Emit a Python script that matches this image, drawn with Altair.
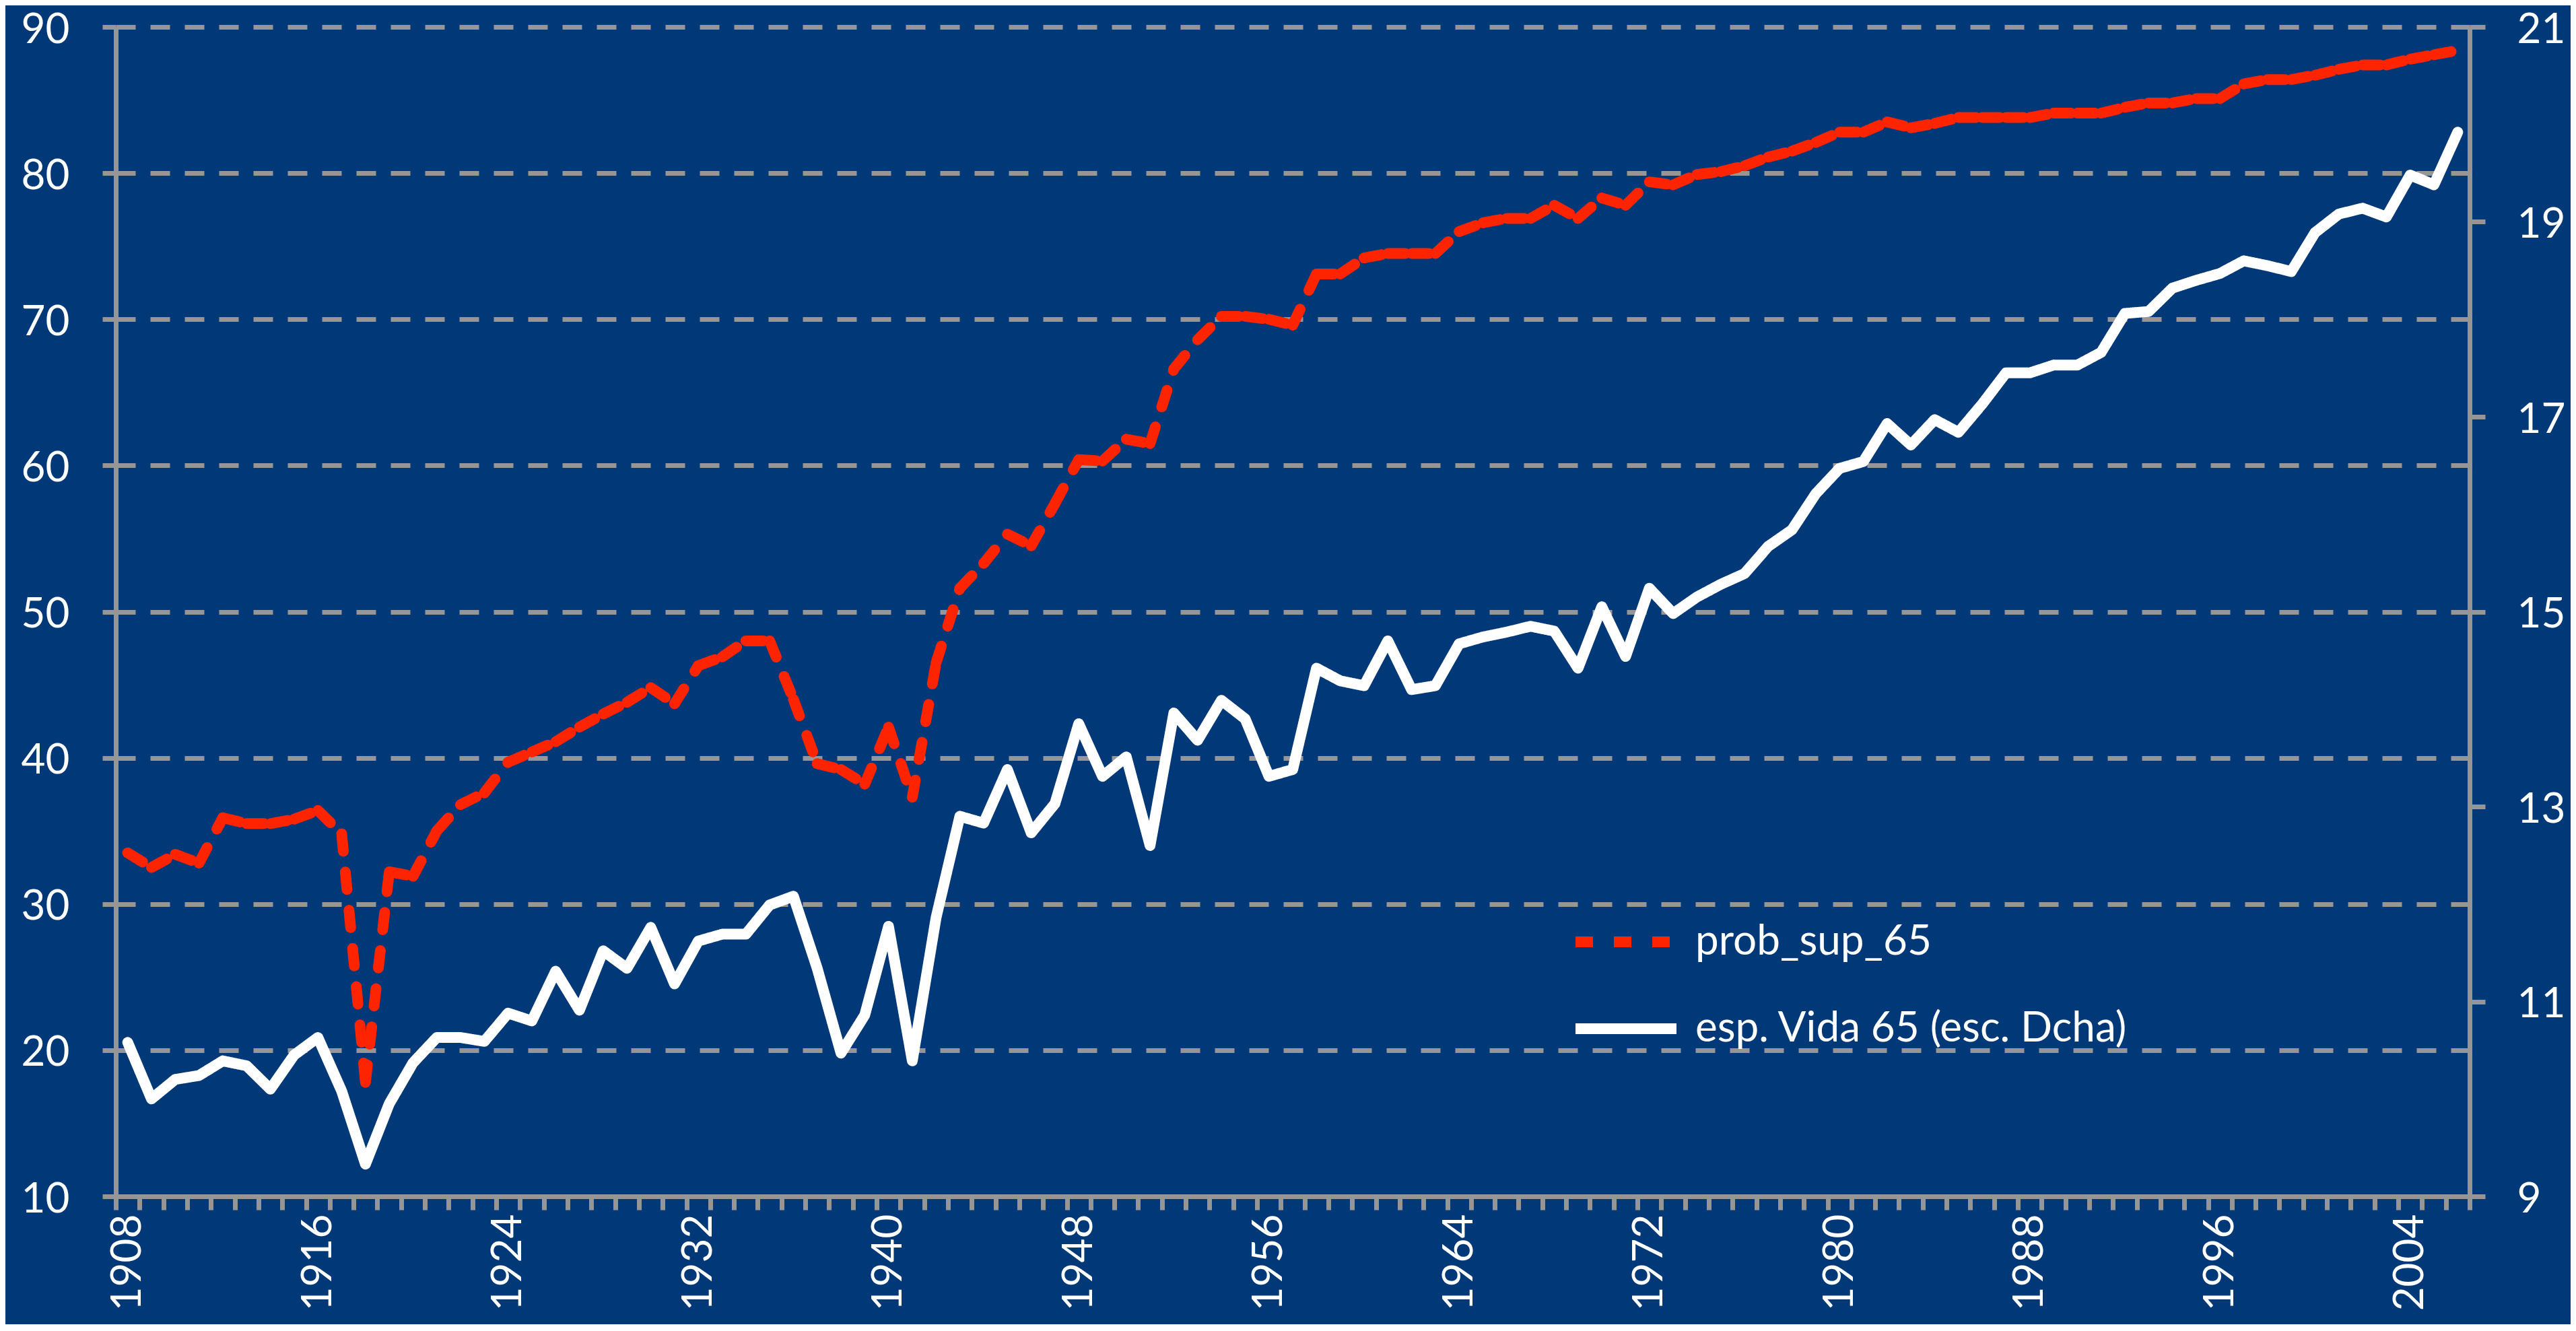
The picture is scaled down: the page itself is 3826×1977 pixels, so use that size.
import altair as alt
import pandas as pd

years = list(range(1908, 2007))

prob_sup_65 = [
    33.5, 32.5, 33.4, 32.8, 35.9, 35.5, 35.5, 35.8, 36.4, 34.8,   # 1908-1917
    17.8, 32.2, 31.9, 35.0, 36.8, 37.6, 39.7, 40.4, 41.1, 42.1,   # 1918-1927
    43.0, 43.8, 44.8, 43.7, 46.3, 46.9, 48.0, 48.0, 44.0, 39.6,   # 1928-1937
    39.2, 38.2, 42.1, 37.3, 46.5, 51.6, 53.3, 55.3, 54.5, 57.4,   # 1938-1947
    60.4, 60.3, 61.8, 61.5, 66.6, 68.6, 70.2, 70.2, 70.0, 69.6,   # 1948-1957
    73.1, 73.1, 74.2, 74.5, 74.5, 74.5, 76.0, 76.6, 76.9, 76.9,   # 1958-1967
    77.8, 76.9, 78.3, 77.8, 79.4, 79.2, 79.9, 80.1, 80.5, 81.1,   # 1968-1977
    81.5, 82.1, 82.8, 82.8, 83.5, 83.1, 83.4, 83.8, 83.8, 83.8,   # 1978-1987
    83.8, 84.1, 84.1, 84.1, 84.5, 84.8, 84.8, 85.1, 85.1, 86.1,   # 1988-1997
    86.4, 86.4, 86.7, 87.1, 87.4, 87.4, 87.8, 88.1, 88.4,         # 1998-2006
]

esp_vida_65 = [
    10.58, 10.00, 10.20, 10.24, 10.39, 10.34, 10.10, 10.45, 10.63, 10.08,  # 1908-1917
    9.33, 9.95, 10.37, 10.63, 10.63, 10.59, 10.88, 10.80, 11.31, 10.91,    # 1918-1927
    11.52, 11.34, 11.76, 11.18, 11.62, 11.69, 11.69, 11.99, 12.08, 11.34,  # 1928-1937
    10.47, 10.86, 11.77, 10.39, 11.86, 12.90, 12.83, 13.38, 12.73, 13.03,  # 1938-1947
    13.85, 13.31, 13.51, 12.60, 13.96, 13.68, 14.09, 13.90, 13.31, 13.38,  # 1948-1957
    14.42, 14.29, 14.24, 14.70, 14.20, 14.24, 14.67, 14.74, 14.79, 14.85,  # 1958-1967
    14.80, 14.42, 15.05, 14.54, 15.24, 14.98, 15.15, 15.28, 15.39, 15.67,  # 1968-1977
    15.84, 16.21, 16.47, 16.54, 16.93, 16.71, 16.97, 16.84, 17.13, 17.45,  # 1978-1987
    17.45, 17.53, 17.53, 17.66, 18.06, 18.08, 18.32, 18.40, 18.47, 18.60,  # 1988-1997
    18.55, 18.49, 18.89, 19.08, 19.14, 19.05, 19.48, 19.38, 19.92,         # 1998-2006
]

series_names = ["prob_sup_65", "esp. Vida 65 (esc. Dcha)"]
left_ticks = [10, 20, 30, 40, 50, 60, 70, 80, 90]
right_ticks = [9, 11, 13, 15, 17, 19, 21]
year_labels = list(range(1908, 2005, 8))
category_edges = [y - 0.5 for y in years] + [years[-1] + 0.5]

BG = "#003878"
GRAY = "#969696"
RED = "#FF2400"
FONT = "Lato"
FS = 62

# red series: one path per segment so the dash pattern restarts at each point
seg_rows = []
for i in range(len(years) - 1):
    for j in (i, i + 1):
        seg_rows.append({"seg": i, "year": years[j], "value": prob_sup_65[j],
                         "series": series_names[0]})
red_df = pd.DataFrame(seg_rows)
white_df = pd.DataFrame({"year": years, "value": esp_vida_65,
                         "series": series_names[1]})

x_scale = alt.Scale(domain=[years[0] - 0.5, years[-1] + 0.5], nice=False, zero=False)

legend = alt.Legend(
    title=None, orient="none", legendX=2160, legendY=1276,
    symbolType="stroke", symbolSize=22500, symbolStrokeWidth=16,
    labelFont=FONT, labelFontSize=FS, labelColor="white", labelLimit=0,
    labelOffset=20, rowPadding=14, padding=0, direction="vertical",
)
color_scale = alt.Scale(domain=series_names, range=[RED, "white"])
dash_scale = alt.Scale(domain=series_names, range=[[26, 31], [1, 0]])

red = alt.Chart(red_df).mark_line(
    strokeWidth=16, strokeCap="round", strokeJoin="round"
).encode(
    x=alt.X("year:Q", scale=x_scale, axis=alt.Axis(
        orient="bottom", values=category_edges, labels=False, ticks=True,
        tickSize=20, tickWidth=7, tickColor=GRAY, domain=True,
        domainColor=GRAY, domainWidth=7, grid=False, title=None)),
    y=alt.Y("value:Q", scale=alt.Scale(domain=[10, 90], nice=False, zero=False),
            axis=alt.Axis(orient="left", values=left_ticks, grid=True,
                          gridColor=GRAY, gridWidth=7, gridDash=[29, 22],
                          domain=True, domainColor=GRAY, domainWidth=7,
                          ticks=True, tickColor=GRAY, tickWidth=7, tickSize=20,
                          labelColor="white", labelFont=FONT, labelFontSize=FS,
                          labelPadding=49, labelOffset=4, title=None)),
    detail="seg:N",
    color=alt.Color("series:N", scale=color_scale, legend=legend),
    strokeDash=alt.StrokeDash("series:N", scale=dash_scale, legend=legend),
)

white = alt.Chart(white_df).mark_line(
    strokeWidth=16, strokeCap="round", strokeJoin="round"
).encode(
    x=alt.X("year:Q", scale=x_scale, axis=alt.Axis(
        orient="bottom", values=year_labels, format="d", labels=True,
        labelAngle=-90, ticks=False, domain=False, grid=False,
        labelColor="white", labelFont=FONT, labelFontSize=FS,
        labelPadding=26, title=None, labelOverlap=False)),
    y=alt.Y("value:Q", scale=alt.Scale(domain=[9, 21], nice=False, zero=False),
            axis=alt.Axis(orient="right", values=right_ticks, grid=False,
                          domain=True, domainColor=GRAY, domainWidth=7,
                          ticks=True, tickColor=GRAY, tickWidth=7, tickSize=23,
                          labelColor="white", labelFont=FONT, labelFontSize=FS,
                          labelPadding=47, labelOffset=4, title=None)),
    color=alt.Color("series:N", scale=color_scale, legend=legend),
    strokeDash=alt.StrokeDash("series:N", scale=dash_scale, legend=legend),
)

chart = alt.layer(red, white).resolve_scale(
    y="independent"
).resolve_axis(
    x="independent", y="independent"
).properties(
    width=3496, height=1737,
    autosize=alt.AutoSizeParams(type="none"),
    padding={"left": 164, "top": 32, "right": 150, "bottom": 190},
    background=BG,
).configure_view(strokeWidth=0, fill=BG)

chart.save("out.html", embed_options={"renderer": "svg", "actions": False})
